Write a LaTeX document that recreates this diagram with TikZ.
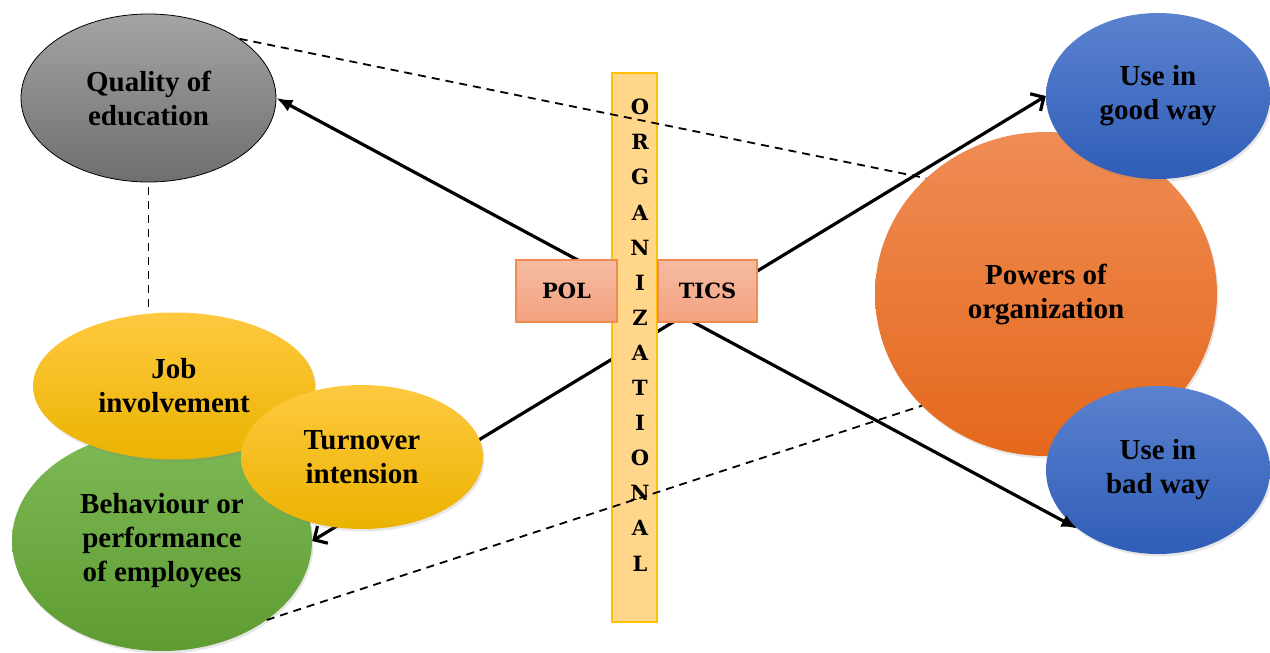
\documentclass[tikz,border=0pt]{standalone}
\usepackage{fontspec}
\setmainfont{Liberation Serif}
\newfontfamily\heavyfont{DejaVu Serif}
\usetikzlibrary{arrows.meta,shapes.geometric,shadows}
\definecolor{graytop}{HTML}{A4A4A4}
\definecolor{graybot}{HTML}{6E6E6E}
\definecolor{greentop}{HTML}{7DB955}
\definecolor{greenbot}{HTML}{5E9C32}
\definecolor{yellowtop}{HTML}{FFC940}
\definecolor{yellowbot}{HTML}{EBB300}
\definecolor{orangetop}{HTML}{F08C55}
\definecolor{orangebot}{HTML}{E4681C}
\definecolor{bluetop}{HTML}{5B82CF}
\definecolor{bluebot}{HTML}{2F5DB7}
\definecolor{barfill}{HTML}{FFD68A}
\definecolor{barline}{HTML}{FFC000}
\definecolor{boxtop}{HTML}{F4BBA2}
\definecolor{boxbot}{HTML}{F4A27F}
\definecolor{boxline}{HTML}{F08B52}
\tikzset{bubble/.style = {ellipse, inner sep = 0, align = center, font = \bfseries\fontsize{29}{34}\selectfont}}
\tikzset{tone/.style 2 args = {top color = #1, bottom color = #2, drop shadow = {opacity = 0.2, shadow xshift = 1.5pt, shadow yshift = -2.5pt}}}
\tikzset{link/.style = {line width = 3.2pt}}
\tikzset{dotline/.style = {line width = 1.8pt, dash pattern = on 8pt off 6pt}}
\tikzset{letter/.style = {inner sep = 0, font = \heavyfont\bfseries\fontsize{21}{21}\selectfont}}
\tikzset{tab/.style = {draw = boxline, line width = 1.2pt, top color = boxtop, bottom color = boxbot, minimum height = 62pt, inner sep = 0, font = \heavyfont\bfseries\fontsize{21}{21}\selectfont}}

\begin{document}
\begin{tikzpicture}[x = 1pt, y = -1pt]
    \useasboundingbox (0,0) rectangle (1270,653);
    \node [bubble, draw, line width = 0.8pt, top color = graytop, bottom color = graybot, minimum width = 255pt, minimum height = 168pt] (quality) at (148.5,98) {Quality of\\education};
    \node [bubble, tone = {greentop}{greenbot}, minimum width = 300pt, minimum height = 220pt] (behaviour) at (162,541) {Behaviour or\\performance\\of employees};
    \node [bubble, tone = {yellowtop}{yellowbot}, minimum width = 282pt, minimum height = 147pt] (job) at (174,386) {Job\\involvement};
    \node [bubble, tone = {orangetop}{orangebot}, minimum width = 342pt, minimum height = 324pt] (powers) at (1046,294) {Powers of\\organization};
    \node [bubble, tone = {bluetop}{bluebot}, minimum width = 224pt, minimum height = 166pt] (good) at (1158,96) {Use in\\good way};
    \node [bubble, tone = {bluetop}{bluebot}, minimum width = 224pt, minimum height = 168pt] (bad) at (1158,470) {Use in\\bad way};
    \draw [link, {Latex[length = 16pt, width = 13pt]}-{Latex[length = 16pt, width = 13pt]}] (quality.east) -- (bad.216);
    \draw [link, {Straight Barb[length = 10pt, width = 20pt]}-{Straight Barb[length = 10pt, width = 20pt]}] (behaviour.east) -- (good.west);
    \node [bubble, tone = {yellowtop}{yellowbot}, minimum width = 242pt, minimum height = 144pt] (turnover) at (362,457) {Turnover\\intension};
    \node [draw = barline, fill = barfill, line width = 1.2pt, minimum width = 45pt, minimum height = 549pt, inner sep = 0] (bar) at (634.5,347.5) {};
    \foreach \ch [count = \k] in {O,R,G,A,N,I,Z,A,T,I,O,N,A,L}
        \node [letter] (l\k) at (640,72+35.1*\k) {\ch};
    \node [tab, minimum width = 101pt] (pol) at (566.5,291) {POL};
    \node [tab, minimum width = 99pt] (tics) at (707.5,291) {TICS};
    \draw [dotline] (quality.33) -- (powers.136);
    \draw [dotline, shorten <= 5pt, shorten >= 4pt] (quality.south) -- (quality.south |- job.north);
    \draw [dotline] (behaviour.-37) -- (powers.222);
\end{tikzpicture}
\end{document}
